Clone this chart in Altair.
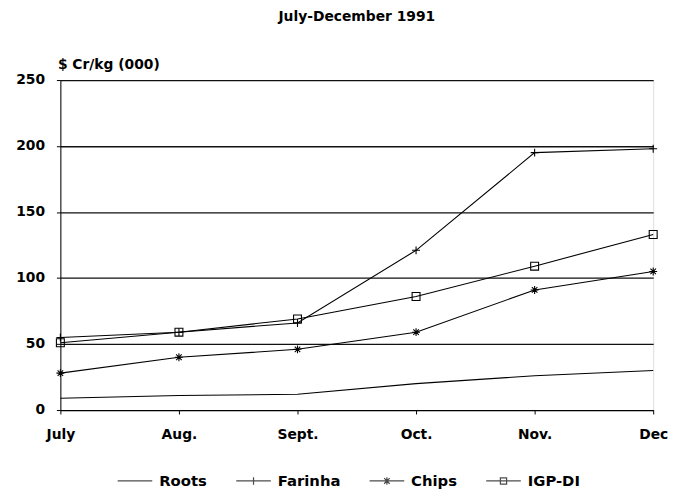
import altair as alt
import pandas as pd

months = ["July", "Aug.", "Sept.", "Oct.", "Nov.", "Dec"]
series_names = ["Roots", "Farinha", "Chips", "IGP-DI"]
roots = [9, 11, 12, 20, 26, 30]
farinha = [55, 59, 66, 121, 195, 198]
chips = [28, 40, 46, 59, 91, 105]
igp_di = [51, 59, 69, 86, 109, 133]

values = {"Roots": roots, "Farinha": farinha, "Chips": chips, "IGP-DI": igp_di}
rows = []
for name in series_names:
    for m, v in zip(months, values[name]):
        rows.append({"series": name, "month": m, "value": v})
df = pd.DataFrame(rows)

FONT = "DejaVu Sans"

# marker shapes on the plot
plus_pt = "M-1,0L1,0M0,-1L0,1"
star_pt = "M-1,0L1,0M0,-1L0,1M-0.7,-0.7L0.7,0.7M-0.7,0.7L0.7,-0.7"
point_shapes = ["circle", plus_pt, star_pt, "square"]

# legend symbols: line with a small marker
line_leg = "M-1,0L1,0"
plus_leg = "M-1,0L1,0M0,-0.22L0,0.22"
star_leg = "M-1,0L1,0M0,-0.22L0,0.22M-0.16,-0.16L0.16,0.16M-0.16,0.16L0.16,-0.16"
square_leg = "M-1,0L1,0M-0.18,-0.18L0.18,-0.18L0.18,0.18L-0.18,0.18Z"
legend_shapes = [line_leg, plus_leg, star_leg, square_leg]

x_enc = alt.X(
    "month:N",
    sort=months,
    scale=alt.Scale(padding=0),
    axis=alt.Axis(
        title=None, labelAngle=0, grid=False, tickSize=4, labelPadding=14,
        labelFont=FONT, labelFontSize=14, labelFontWeight="bold", labelColor="black",
        domainColor="black", tickColor="black",
    ),
)
y_enc = alt.Y(
    "value:Q",
    scale=alt.Scale(domain=[0, 250]),
    axis=alt.Axis(
        values=[0, 50, 100, 150, 200, 250], grid=True, gridColor="#111111", gridWidth=1.3,
        tickSize=4, labelPadding=12, labelFont=FONT, labelFontSize=14, labelFontWeight="bold",
        labelColor="black", domainColor="black", tickColor="black",
        title="$ Cr/kg (000)", titleAngle=0, titleAlign="left", titleBaseline="middle",
        titleX=-3, titleY=-16, titleFont=FONT, titleFontSize=14, titleFontWeight="bold",
        titleColor="black",
    ),
)

base = alt.Chart(df).encode(x=x_enc, y=y_enc)

lines = base.mark_line(color="black", strokeWidth=1.1).encode(detail="series:N")

points = base.mark_point(filled=False, color="black", strokeWidth=1.1, size=64, opacity=1).encode(
    shape=alt.Shape("series:N", scale=alt.Scale(domain=series_names, range=point_shapes), legend=None)
).transform_filter(alt.datum.series != "Roots")

legend_layer = base.mark_point(filled=False, color="black", strokeWidth=1.2).encode(
    shape=alt.Shape(
        "series:N",
        scale=alt.Scale(domain=series_names, range=legend_shapes),
        legend=alt.Legend(
            title=None, orient="none", direction="horizontal", legendX=57, legendY=387,
            symbolSize=1225, symbolStrokeColor="black", symbolStrokeWidth=1.2,
            labelFont=FONT, labelFontSize=15, labelFontWeight="bold", labelColor="black",
            labelOffset=6, columnPadding=26, padding=0,
        ),
    )
).transform_filter("false")

chart = (
    alt.layer(lines, points, legend_layer)
    .resolve_scale(shape="independent")
    .properties(
        width=600,
        height=334,
        autosize=alt.AutoSizeParams(type="none"),
        padding={"left": 53, "top": 70, "right": 16, "bottom": 78},
        title=alt.Title(
            "July-December 1991", font=FONT, fontSize=14, fontWeight="bold",
            color="black", anchor="middle", offset=34,
        ),
    )
    .configure_view(stroke="black", strokeWidth=1)
    .configure(background="white")
)

chart.save("out.html", embed_options={"renderer": "svg", "actions": False})
